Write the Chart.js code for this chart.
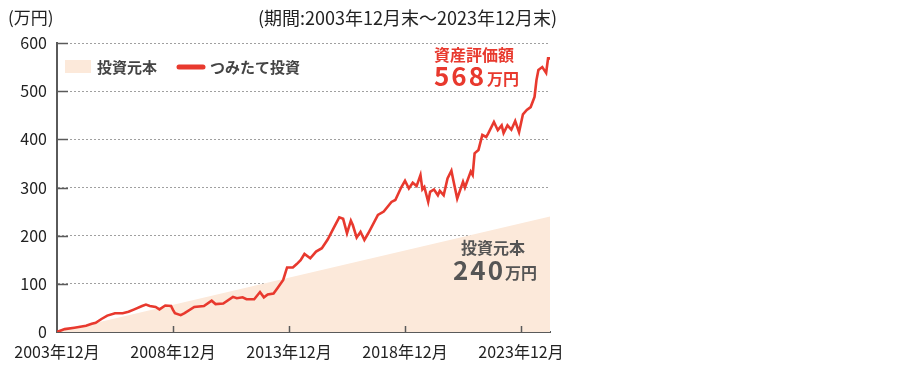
<!DOCTYPE html>
<html lang="ja">
<head>
<meta charset="utf-8">
<script src="https://cdn.jsdelivr.net/npm/chart.js@4"></script>
<style>
  html, body { margin: 0; padding: 0; background: #fff; }
  #wrap { width: 900px; height: 370px; }
</style>
</head>
<body>
<div id="wrap"><canvas id="myChart" width="900" height="370"></canvas></div>
<script>
// データ（横軸は積立開始からの月数）
const months = [0,4,9,15,18,20,23,26,30,34,37,40,44,46,48,51,53,56,59,60,61,64,66,71,76,80,82,86,91,93,96,98,102,105,107,109,112,114,117,119,122,124,126,128,131,134,137,140,143,146,148,150,152,153,155,157,159,161,166,169,173,175,178,180,182,184,186,188,189,190,192,193,195,197,198,200,202,204,205,207,210,211,214,215,216,218,220,222,223,226,228,230,231,233,235,237,239,241,243,245,247,248,249,251,253,254,255];
const assetValues = [0,6,9,13,17,19,27,34,39,39,42,47,54,57,54,52,47,55,54,46,39,35,39,52,54,65,58,59,73,70,72,68,68,83,72,78,80,91,108,134,134,141,149,162,153,167,174,192,215,238,235,205,231,222,196,208,191,205,243,250,270,274,300,314,298,310,303,326,296,301,270,291,296,284,293,284,319,335,315,277,312,300,333,326,371,378,409,405,412,436,419,429,413,429,420,438,415,452,461,467,488,523,544,550,538,568,568];
const principalMonths = [0, 255];
const principalValues = [0, 240];
const xTickMonths = [0, 60, 120, 180, 240];
const xTickLabels = ['2003年12月', '2008年12月', '2013年12月', '2018年12月', '2023年12月'];
const yTicks = [0, 100, 200, 300, 400, 500, 600];

const FONT = '"Noto Sans CJK JP", "Noto Sans", sans-serif';
const RED = '#e8392e';
const PEACH = '#fce9da';
const AXIS = '#5a5a5a';

// 文字・凡例・目盛りの短い線を描くプラグイン
const decorations = {
    id: 'decorations',
    afterDraw(chart) {
        const ctx = chart.ctx;
        const area = chart.chartArea;
        const x = chart.scales.x;
        const y = chart.scales.y;
        ctx.save();

        // 縦軸の短い実線
        ctx.strokeStyle = AXIS;
        ctx.lineWidth = 1.5;
        yTicks.slice(1).forEach(v => {
            const py = Math.round(y.getPixelForValue(v)) + 0.5;
            ctx.beginPath();
            ctx.moveTo(area.left, py);
            ctx.lineTo(area.left + 11, py);
            ctx.stroke();
        });
        // 横軸の目盛り
        xTickMonths.slice(1).forEach(v => {
            const px = Math.round(x.getPixelForValue(v)) + 0.5;
            ctx.beginPath();
            ctx.moveTo(px, area.bottom);
            ctx.lineTo(px, area.bottom - 6);
            ctx.stroke();
        });

        ctx.textBaseline = 'middle';
        // 見出し
        ctx.fillStyle = '#222';
        ctx.font = '17px ' + FONT;
        ctx.textAlign = 'left';
        ctx.fillText('(万円)', 8, 18);
        ctx.font = '18px ' + FONT;
        ctx.textAlign = 'right';
        ctx.fillText('(期間:2003年12月末～2023年12月末)', 557, 18);

        // 凡例
        ctx.fillStyle = PEACH;
        ctx.fillRect(65, 60, 26, 13);
        ctx.strokeStyle = RED;
        ctx.lineWidth = 5;
        ctx.lineCap = 'round';
        ctx.beginPath();
        ctx.moveTo(179, 67);
        ctx.lineTo(203, 67);
        ctx.stroke();
        ctx.fillStyle = '#444';
        ctx.font = 'bold 15px ' + FONT;
        ctx.textAlign = 'left';
        ctx.fillText('投資元本', 97, 67);
        ctx.fillText('つみたて投資', 210, 67);

        // 資産評価額
        ctx.fillStyle = RED;
        ctx.font = 'bold 16px ' + FONT;
        ctx.textAlign = 'left';
        ctx.fillText('資産評価額', 434, 55);
        ctx.letterSpacing = '2px';
        ctx.font = 'bold 26px ' + FONT;
        ctx.fillText('568', 434, 76);
        ctx.letterSpacing = '0px';
        ctx.font = 'bold 16px ' + FONT;
        ctx.fillText('万円', 487, 79);

        // 投資元本
        ctx.fillStyle = '#555';
        ctx.font = 'bold 16px ' + FONT;
        ctx.fillText('投資元本', 461, 248);
        ctx.letterSpacing = '2px';
        ctx.font = 'bold 26px ' + FONT;
        ctx.fillText('240', 453, 270);
        ctx.letterSpacing = '0px';
        ctx.font = 'bold 16px ' + FONT;
        ctx.fillText('万円', 505, 273);

        ctx.restore();
    }
};

const ctx = document.getElementById('myChart').getContext('2d');
new Chart(ctx, {
    type: 'line',
    data: {
        datasets: [{
            label: 'つみたて投資',
            data: months.map((m, i) => ({ x: m, y: assetValues[i] })),
            borderColor: RED,
            borderWidth: 2.6,
            pointRadius: 0,
            tension: 0,
            fill: false,
            order: 1
        }, {
            label: '投資元本',
            data: principalMonths.map((m, i) => ({ x: m, y: principalValues[i] })),
            borderWidth: 0,
            borderColor: PEACH,
            backgroundColor: PEACH,
            pointRadius: 0,
            fill: 'origin',
            order: 2
        }]
    },
    options: {
        responsive: false,
        animation: false,
        layout: { padding: { top: 43, right: 350, bottom: 0, left: 0 } },
        plugins: {
            legend: { display: false },
            tooltip: { enabled: false }
        },
        scales: {
            x: {
                type: 'linear',
                min: 0,
                max: 255,
                afterBuildTicks: scale => {
                    scale.ticks = xTickMonths.map(v => ({ value: v }));
                },
                afterFit: scale => { scale.height = 38; },
                grid: { display: false, drawTicks: false },
                border: { color: AXIS, width: 2 },
                ticks: {
                    padding: 10,
                    color: '#222',
                    maxRotation: 0,
                    autoSkip: false,
                    font: { size: 16, family: FONT },
                    callback: function(value) {
                        const i = xTickMonths.indexOf(value);
                        return i >= 0 ? xTickLabels[i] : '';
                    }
                }
            },
            y: {
                min: 0,
                max: 600,
                afterBuildTicks: scale => {
                    scale.ticks = yTicks.map(v => ({ value: v }));
                },
                afterFit: scale => { scale.width = 57; },
                grid: {
                    drawTicks: false,
                    color: c => c.tick.value === 0 ? 'rgba(0,0,0,0)' : '#a0a0a0',
                    lineWidth: 1
                },
                border: { display: true, color: AXIS, width: 2, dash: [2, 2] },
                ticks: {
                    padding: 10,
                    color: '#222',
                    font: { size: 16, family: FONT }
                }
            }
        }
    },
    plugins: [decorations]
});
</script>
</body>
</html>
